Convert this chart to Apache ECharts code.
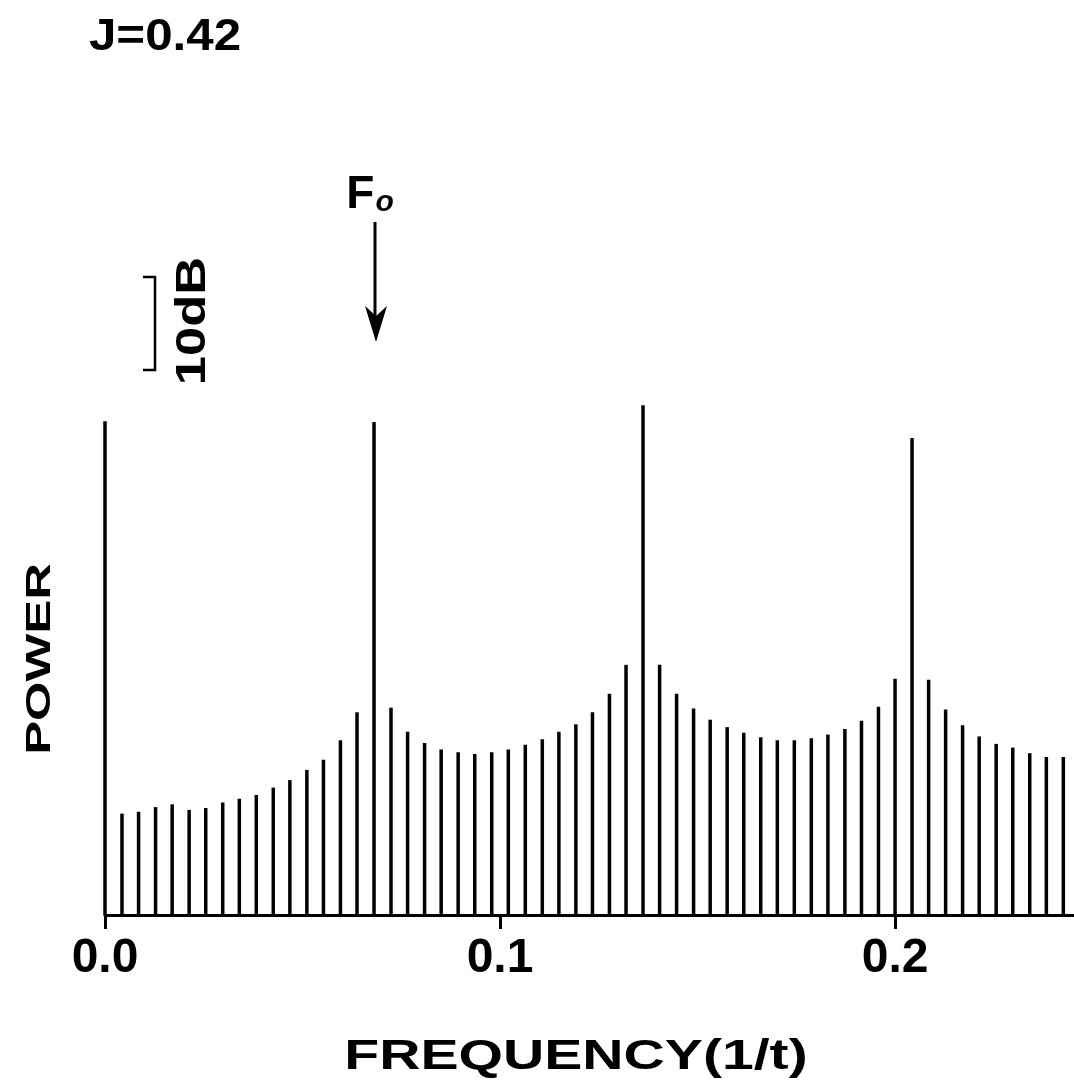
<!DOCTYPE html>
<html>
<head>
<meta charset="utf-8">
<script src="https://cdn.jsdelivr.net/npm/echarts@6/dist/echarts.min.js"></script>
<style>
html,body{margin:0;padding:0;background:#fff;}
#chart{width:1074px;height:1083px;}
</style>
</head>
<body>
<div id="chart"></div>
<script>
// Frequencies of the spectral lines (1/t)
var frequencies = [
  0.0000, 0.0043, 0.0085, 0.0128, 0.0170, 0.0213, 0.0255, 0.0298, 0.0340, 0.0383,
  0.0426, 0.0468, 0.0511, 0.0553, 0.0596, 0.0638, 0.0681, 0.0724, 0.0766, 0.0809,
  0.0851, 0.0894, 0.0936, 0.0979, 0.1021, 0.1064, 0.1107, 0.1149, 0.1192, 0.1234,
  0.1277, 0.1319, 0.1362, 0.1404, 0.1447, 0.1490, 0.1532, 0.1575, 0.1617, 0.1660,
  0.1702, 0.1745, 0.1788, 0.1830, 0.1873, 0.1915, 0.1958, 0.2000, 0.2043, 0.2085,
  0.2128, 0.2171, 0.2213, 0.2256, 0.2298, 0.2341, 0.2383, 0.2426
];
// Power above baseline (dB)
var power = [
  53.1, 10.9, 11.1, 11.6, 11.9, 11.3, 11.5, 12.1, 12.5, 12.9,
  13.7, 14.5, 15.6, 16.7, 18.8, 21.8, 53.0, 22.3, 19.7, 18.5,
  17.8, 17.5, 17.3, 17.5, 17.8, 18.3, 18.9, 19.7, 20.5, 21.8,
  23.8, 26.9, 54.8, 26.9, 23.8, 22.2, 21.0, 20.2, 19.6, 19.1,
  18.8, 18.8, 19.0, 19.4, 20.0, 20.9, 22.4, 25.4, 51.3, 25.3,
  22.1, 20.4, 19.2, 18.4, 18.0, 17.4, 17.0, 17.0
];
var xTicks = [0, 0.1, 0.2];
var xMin = 0, xMax = 0.2453;
var yMin = 0, yMax = 60;

var FONT = '"Liberation Sans", Arial, sans-serif';
var seriesData = frequencies.map(function (f, i) { return [f, power[i]]; });

var chart = echarts.init(document.getElementById('chart'), null, {renderer: 'canvas'});
chart.setOption({
  backgroundColor: '#ffffff',
  animation: false,
  grid: {left: 105, right: 0, top: 357, bottom: 168},
  xAxis: {
    type: 'value',
    min: xMin, max: xMax,
    splitLine: {show: false},
    axisLine: {show: true, lineStyle: {color: '#000', width: 3}},
    axisTick: {show: true, customValues: xTicks, length: 14, inside: false, lineStyle: {color: '#000', width: 3}},
    axisLabel: {
      customValues: xTicks,
      margin: 20,
      color: '#000',
      fontFamily: FONT,
      fontWeight: 'bold',
      fontSize: 48,
      formatter: function (v) { return v.toFixed(1); }
    }
  },
  yAxis: {type: 'value', min: yMin, max: yMax, show: false},
  series: [{
    type: 'bar',
    data: seriesData,
    barWidth: 3.5,
    clip: false,
    itemStyle: {color: '#000'}
  }],
  graphic: [
    {type: 'text', x: 165, y: 38, scaleX: 1.12,
     style: {text: 'J=0.42', font: 'bold 44px ' + FONT, fill: '#000', align: 'center', verticalAlign: 'middle'}},
    {type: 'text', x: 370, y: 195,
     style: {text: '{a|F}{b|o}', fill: '#000', align: 'center', verticalAlign: 'middle',
       rich: {a: {font: 'bold 46px ' + FONT, fill: '#000', verticalAlign: 'bottom'},
              b: {font: 'italic bold 30px ' + FONT, fill: '#000', verticalAlign: 'bottom', padding: [0, 0, 0, 1]}}}},
    {type: 'line', shape: {x1: 375, y1: 222, x2: 375, y2: 318}, style: {stroke: '#000', lineWidth: 3}},
    {type: 'polygon', shape: {points: [[365, 306], [376, 342], [387, 306], [376, 316]]}, style: {fill: '#000'}},
    {type: 'polyline', shape: {points: [[143, 277], [155, 277], [155, 370], [143, 370]]}, style: {stroke: '#000', lineWidth: 2.5, fill: null}},
    {type: 'text', x: 193, y: 321, rotation: Math.PI / 2, scaleX: 1.22,
     style: {text: '10dB', font: 'bold 43px ' + FONT, fill: '#000', align: 'center', verticalAlign: 'middle'}},
    {type: 'text', x: 40, y: 659, rotation: Math.PI / 2, scaleX: 1.45,
     style: {text: 'POWER', font: 'bold 35px ' + FONT, fill: '#000', align: 'center', verticalAlign: 'middle'}},
    {type: 'text', x: 576, y: 1057, scaleX: 1.36,
     style: {text: 'FREQUENCY(1/t)', font: 'bold 42px ' + FONT, fill: '#000', align: 'center', verticalAlign: 'middle'}}
  ]
});
</script>
</body>
</html>
